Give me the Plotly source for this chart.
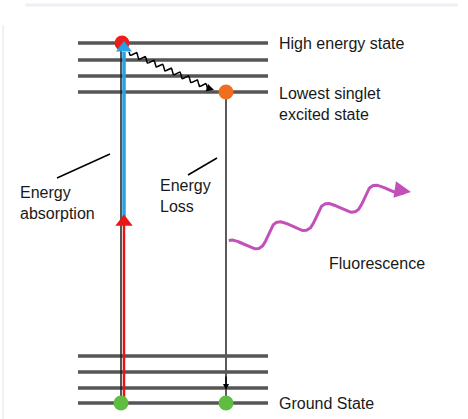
import numpy as np
import plotly.graph_objects as go

# level layout (pixel-like units, y grows downward)
level_x = [78, 268]
upper_levels = [43, 60, 76, 92]
ground_levels = [356, 372, 388, 403]

# transitions
absorb_x = 121
blue_x = 124
loss_x = 226

level_labels = ["High energy state", "Lowest singlet<br>excited state", "Ground State"]
label_y = [43, 104, 403]


def wavy(x0, y0, x1, y1, periods, amp, n=300, phase=0.0):
    t = np.linspace(0, 1, n)
    dx, dy = x1 - x0, y1 - y0
    L = np.hypot(dx, dy)
    nx, ny = -dy / L, dx / L
    w = amp * np.sin(2 * np.pi * periods * t + phase)
    return x0 + dx * t + nx * w, y0 + dy * t + ny * w


fig = go.Figure()

# energy levels
for y in upper_levels + ground_levels:
    fig.add_scatter(x=level_x, y=[y, y], mode='lines',
                    line=dict(color='rgb(85,85,85)', width=3.5), hoverinfo='skip')

# absorption: black thin line, red lower part, blue upper part
fig.add_scatter(x=[absorb_x, absorb_x], y=[ground_levels[-1], upper_levels[0]], mode='lines',
                line=dict(color='rgb(30,30,30)', width=1.5), hoverinfo='skip')
fig.add_scatter(x=[blue_x, blue_x], y=[398, 225], mode='lines',
                line=dict(color='rgb(230,20,20)', width=2.5), hoverinfo='skip')
fig.add_scatter(x=[blue_x, blue_x], y=[222, 52], mode='lines',
                line=dict(color='rgb(40,160,225)', width=3.5), hoverinfo='skip')
fig.add_scatter(x=[blue_x], y=[222], mode='markers',
                marker=dict(symbol='triangle-up', size=15, color='rgb(235,20,20)'), hoverinfo='skip')

# emission line (energy loss to ground)
fig.add_scatter(x=[loss_x, loss_x], y=[upper_levels[-1], ground_levels[-1]], mode='lines',
                line=dict(color='rgb(90,90,90)', width=2), hoverinfo='skip')
fig.add_annotation(x=loss_x, y=390, ax=loss_x, ay=375, xref='x', yref='y', axref='x', ayref='y',
                   showarrow=True, arrowhead=2, arrowsize=0.8, arrowwidth=1.5, arrowcolor='black', text='')

# dots
fig.add_scatter(x=[122], y=[upper_levels[0]], mode='markers',
                marker=dict(size=15, color='rgb(235,30,30)'), hoverinfo='skip')
fig.add_scatter(x=[blue_x], y=[48], mode='markers',
                marker=dict(symbol='triangle-up', size=14, color='rgb(40,160,225)'), hoverinfo='skip')
fig.add_scatter(x=[loss_x], y=[upper_levels[-1]], mode='markers',
                marker=dict(size=15, color='rgb(240,110,30)'), hoverinfo='skip')
fig.add_scatter(x=[absorb_x, loss_x], y=[ground_levels[-1]] * 2, mode='markers',
                marker=dict(size=15, color='rgb(95,190,65)'), hoverinfo='skip')

# vibrational relaxation squiggle
wx, wy = wavy(129, 52, 207, 87, 9, 2.5)
fig.add_scatter(x=wx, y=wy, mode='lines', line=dict(color='black', width=1.5), hoverinfo='skip')
fig.add_annotation(x=214, y=90, ax=205, ay=87, xref='x', yref='y', axref='x', ayref='y',
                   showarrow=True, arrowhead=2, arrowsize=1, arrowwidth=1.5, arrowcolor='black', text='')

# fluorescence wave: starts on a crest, ends on a trough
fx, fy = wavy(232, 249, 400, 185, 3.5, -9, phase=np.pi / 2)
fig.add_scatter(x=fx, y=fy, mode='lines', line=dict(color='rgb(195,80,185)', width=3), hoverinfo='skip')
fig.add_annotation(x=411, y=192, ax=398, ay=190, xref='x', yref='y', axref='x', ayref='y',
                   showarrow=True, arrowhead=2, arrowsize=1.1, arrowwidth=3, arrowcolor='rgb(195,80,185)', text='')

# pointer lines
fig.add_scatter(x=[57, 110], y=[178, 154], mode='lines', line=dict(color='black', width=1.5), hoverinfo='skip')
fig.add_scatter(x=[188, 217], y=[175, 158], mode='lines', line=dict(color='black', width=1.5), hoverinfo='skip')

font = dict(family='Liberation Sans, Arial', size=16, color='rgb(25,25,25)')
for t, y in zip(level_labels, label_y):
    fig.add_annotation(x=277, y=y, text=t, showarrow=False, xanchor='left', yanchor='middle',
                       align='left', font=font)
fig.add_annotation(x=18, y=203, text='Energy<br>absorption', showarrow=False, xanchor='left',
                   align='left', font=font)
fig.add_annotation(x=158, y=196, text='Energy<br>Loss', showarrow=False, xanchor='left',
                   align='left', font=font)
fig.add_annotation(x=327, y=263, text='Fluorescence', showarrow=False, xanchor='left', font=font)

# faint frame
fig.add_scatter(x=[25, 458], y=[5, 5], mode='lines', line=dict(color='rgb(238,240,248)', width=3), hoverinfo='skip')
fig.add_scatter(x=[3, 3], y=[25, 419], mode='lines', line=dict(color='rgb(240,240,245)', width=2), hoverinfo='skip')

fig.update_layout(width=468, height=419, margin=dict(l=0, r=0, t=0, b=0),
                  showlegend=False, plot_bgcolor='white', paper_bgcolor='white',
                  xaxis=dict(range=[0, 468], visible=False, fixedrange=True),
                  yaxis=dict(range=[419, 0], visible=False, fixedrange=True))

fig.write_html("out.html", config={'displayModeBar': False},
               post_script="document.body.style.margin='0px';")
